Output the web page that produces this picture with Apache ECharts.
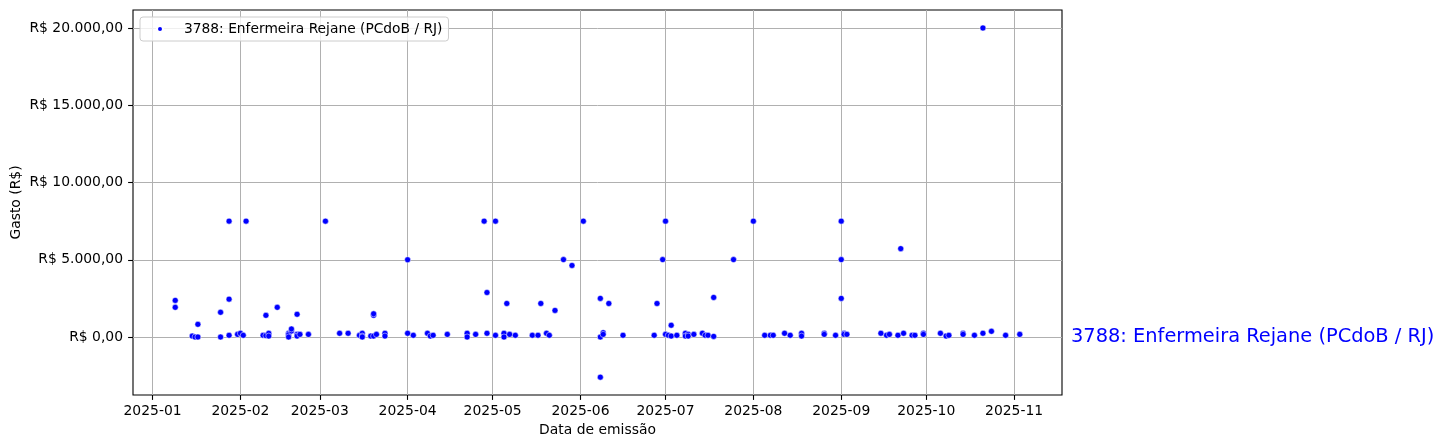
<!DOCTYPE html>
<html>
<head>
<meta charset="utf-8">
<script src="https://cdn.jsdelivr.net/npm/echarts@6/dist/echarts.min.js"></script>
<style>
html,body{margin:0;padding:0;background:#fff;}
#chart{width:1445px;height:448px;}
</style>
</head>
<body>
<div id="chart"></div>
<script>
// ---- data ----
const seriesName = '3788: Enfermeira Rejane (PCdoB / RJ)';
const dates = [
  '2025-01-09','2025-01-09','2025-01-15','2025-01-16','2025-01-17','2025-01-17','2025-01-25','2025-01-25',
  '2025-01-28','2025-01-28','2025-01-28','2025-01-31','2025-02-01','2025-02-02','2025-02-03','2025-02-09',
  '2025-02-10','2025-02-10','2025-02-11','2025-02-11','2025-02-14','2025-02-18','2025-02-18','2025-02-18',
  '2025-02-19','2025-02-19','2025-02-21','2025-02-21','2025-02-21','2025-02-22','2025-02-25','2025-03-03',
  '2025-03-08','2025-03-11','2025-03-15','2025-03-16','2025-03-16','2025-03-16','2025-03-19','2025-03-20',
  '2025-03-20','2025-03-20','2025-03-21','2025-03-24','2025-03-24','2025-04-01','2025-04-01','2025-04-03',
  '2025-04-08','2025-04-09','2025-04-10','2025-04-15','2025-04-22','2025-04-22','2025-04-25','2025-04-28',
  '2025-04-29','2025-04-29','2025-05-02','2025-05-02','2025-05-05','2025-05-05','2025-05-06','2025-05-07',
  '2025-05-09','2025-05-15','2025-05-17','2025-05-18','2025-05-20','2025-05-21','2025-05-23','2025-05-26',
  '2025-05-29','2025-06-02','2025-06-08','2025-06-08','2025-06-08','2025-06-09','2025-06-09','2025-06-11',
  '2025-06-16','2025-06-27','2025-06-28','2025-06-30','2025-07-01','2025-07-01','2025-07-02','2025-07-03',
  '2025-07-03','2025-07-05','2025-07-08','2025-07-08','2025-07-09','2025-07-09','2025-07-11','2025-07-14',
  '2025-07-15','2025-07-16','2025-07-18','2025-07-18','2025-07-25','2025-08-01','2025-08-05','2025-08-07',
  '2025-08-08','2025-08-12','2025-08-14','2025-08-18','2025-08-18','2025-08-26','2025-08-26','2025-08-30',
  '2025-09-01','2025-09-01','2025-09-01','2025-09-02','2025-09-02','2025-09-03','2025-09-15','2025-09-17',
  '2025-09-18','2025-09-21','2025-09-22','2025-09-23','2025-09-26','2025-09-27','2025-09-30','2025-09-30',
  '2025-10-06','2025-10-08','2025-10-09','2025-10-14','2025-10-14','2025-10-18','2025-10-21','2025-10-21',
  '2025-10-24','2025-10-29','2025-11-03'
];
const values = [
  2370,1920,60,0,820,0,1600,0,
  7500,2450,110,170,240,110,7500,110,
  1400,90,240,60,1920,240,150,0,
  390,520,1470,170,60,170,170,7500,
  240,240,110,240,60,0,60,1400,
  1500,60,170,240,60,5000,240,110,
  240,60,110,170,240,0,170,7500,
  2880,240,7500,110,240,0,2170,170,
  110,110,110,2170,240,110,1720,5010,
  4630,7500,2500,0,-2600,280,170,2170,
  110,110,2170,5010,7500,170,110,760,
  60,110,240,60,170,60,170,240,
  110,110,40,2560,5010,7500,110,110,
  110,240,110,240,60,240,170,110,
  7500,5010,2500,240,170,170,240,110,
  170,110,5720,240,110,110,240,170,
  240,60,110,240,170,110,20000,240,
  370,110,170
];
const xTickLabels = ['2025-01','2025-02','2025-03','2025-04','2025-05','2025-06','2025-07','2025-08','2025-09','2025-10','2025-11'];
const yTickValues = [0,5000,10000,15000,20000];

// ---- build ----
function ts(s){ const p = s.split('-').map(Number); return Date.UTC(p[0], p[1]-1, p[2] || 1); }
const DAY = 86400000;
const xMin = ts('2025-01-01') - 6.9*DAY;
const xMax = ts('2025-01-01') + 320.9*DAY;
const xTicks = xTickLabels.map(ts);
const points = dates.map((d,i)=>[ts(d), values[i]]);

function brl(v){
  const neg = v < 0; v = Math.abs(v);
  const int = Math.floor(v).toString().replace(/\B(?=(\d{3})+(?!\d))/g,'.');
  return (neg?'-':'') + 'R$ ' + int + ',00';
}
function ym(v){ const i = xTicks.indexOf(v); if (i >= 0) return xTickLabels[i]; const d = new Date(v); return d.getUTCFullYear() + '-' + String(d.getUTCMonth()+1).padStart(2,'0'); }

const font = 'DejaVu Sans';
const chart = echarts.init(document.getElementById('chart'), null, {renderer:'canvas'});
const option = {
  animation:false,
  backgroundColor:'#ffffff',
  textStyle:{fontFamily:font},
  grid:{left:133, right:383, top:10, bottom:53, containLabel:false, outerBoundsMode:'none', show:true, borderColor:'#000', borderWidth:1.1, backgroundColor:'transparent'},
  legend:{
    left:140, top:17,
    padding:[5,6,5,16],
    itemWidth:6, itemHeight:6,
    borderColor:'#cccccc', borderWidth:1, borderRadius:3,
    backgroundColor:'rgba(255,255,255,0.8)',
    textStyle:{fontFamily:font, fontSize:13.8, color:'#000', padding:[0,0,0,16]},
    data:[{name:seriesName, icon:'circle'}]
  },
  xAxis:{
    type:'value', min:xMin, max:xMax, scale:true,
    name:'Data de emissão', nameLocation:'middle', nameGap:28, nameMoveOverlap:false,
    nameTextStyle:{fontFamily:font, fontSize:13.9, color:'#000'},
    axisLine:{show:false, onZero:false},
    axisTick:{show:true, length:4.9, lineStyle:{color:'#000', width:1.1}, customValues:xTicks},
    axisLabel:{color:'#000', fontFamily:font, fontSize:13.9, margin:9, customValues:xTicks, formatter:function(v){return ym(v);}, hideOverlap:false, showMinLabel:true, showMaxLabel:true},
    splitLine:{show:true, lineStyle:{color:'#b0b0b0', width:1}}
  },
  yAxis:{
    type:'value', min:-3754, max:21165,
    name:'Gasto (R$)', nameLocation:'middle', nameGap:110, nameRotate:90, nameMoveOverlap:false,
    nameTextStyle:{fontFamily:font, fontSize:13.9, color:'#000'},
    axisLine:{show:false, onZero:false},
    axisTick:{show:true, length:4.9, lineStyle:{color:'#000', width:1.1}, customValues:yTickValues},
    axisLabel:{color:'#000', fontFamily:font, fontSize:13.9, margin:10, customValues:yTickValues, formatter:function(v){return brl(v);}},
    splitLine:{show:true, lineStyle:{color:'#b0b0b0', width:1}}
  },
  series:[{
    name:seriesName, type:'scatter', data:points,
    symbol:'circle', symbolSize:6,
    itemStyle:{color:'#0000ff', borderColor:'#ffffff', borderWidth:0.5, opacity:1},
    emphasis:{disabled:true}
  }]
};
chart.setOption(option);
const zeroY = chart.convertToPixel({gridIndex:0}, [xMax, 0])[1];
chart.setOption({graphic:[{type:'text', left:1071, top:zeroY - 10, style:{text:seriesName, fill:'#0000ff', font:'19.4px "DejaVu Sans"', textVerticalAlign:'top'}}]});
</script>
</body>
</html>
